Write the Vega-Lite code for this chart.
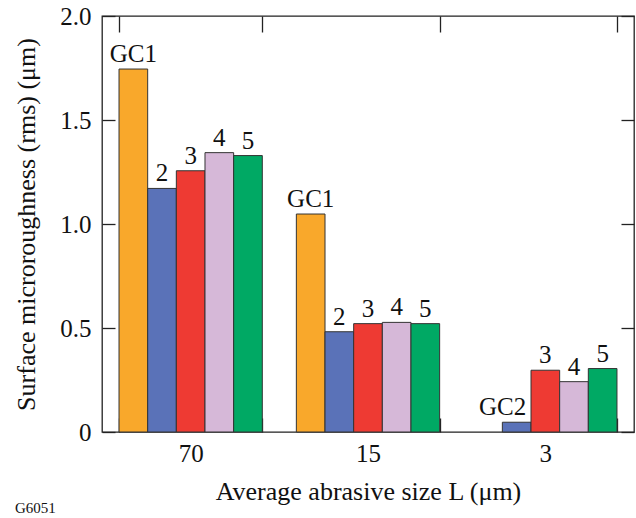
{
  "$schema": "https://vega.github.io/schema/vega-lite/v6.json",
  "width": 532,
  "height": 416,
  "autosize": "none",
  "padding": {"left": 102, "top": 16, "right": 2, "bottom": 86},
  "config": {
    "font": "Liberation Serif",
    "view": {"stroke": "#222", "strokeWidth": 1.3},
    "axis": {
      "grid": false,
      "domain": false,
      "tickColor": "#222",
      "tickWidth": 1.3,
      "labelColor": "#111",
      "titleColor": "#111",
      "labelFont": "Liberation Serif",
      "titleFont": "Liberation Serif",
      "labelFontSize": 25,
      "titleFontSize": 26,
      "titleFontWeight": "normal"
    }
  },
  "title": {
    "text": "G6051",
    "orient": "bottom",
    "anchor": "start",
    "frame": "group",
    "dx": -87,
    "offset": -3,
    "font": "Liberation Serif",
    "fontSize": 15,
    "fontWeight": "normal",
    "color": "#111"
  },
  "data": {
    "values": [
      {"size": "70", "series": "s1", "value": 1.745, "label": "GC1"},
      {"size": "70", "series": "s2", "value": 1.171, "label": "2"},
      {"size": "70", "series": "s3", "value": 1.256, "label": "3"},
      {"size": "70", "series": "s4", "value": 1.343, "label": "4"},
      {"size": "70", "series": "s5", "value": 1.329, "label": "5"},
      {"size": "15", "series": "s1", "value": 1.048, "label": "GC1"},
      {"size": "15", "series": "s2", "value": 0.482, "label": "2"},
      {"size": "15", "series": "s3", "value": 0.521, "label": "3"},
      {"size": "15", "series": "s4", "value": 0.527, "label": "4"},
      {"size": "15", "series": "s5", "value": 0.521, "label": "5"},
      {"size": "3", "series": "s2", "value": 0.047, "label": "GC2"},
      {"size": "3", "series": "s3", "value": 0.297, "label": "3"},
      {"size": "3", "series": "s4", "value": 0.242, "label": "4"},
      {"size": "3", "series": "s5", "value": 0.305, "label": "5"}
    ]
  },
  "encoding": {
    "x": {
      "field": "size",
      "type": "nominal",
      "sort": ["70", "15", "3"],
      "scale": {"paddingInner": 0.192, "paddingOuter": 0.096}
    },
    "xOffset": {"field": "series", "type": "nominal", "sort": ["s1", "s2", "s3", "s4", "s5"]},
    "y": {
      "field": "value",
      "type": "quantitative",
      "scale": {"domain": [0, 2], "nice": false, "zero": true}
    }
  },
  "layer": [
    {
      "mark": {"type": "bar", "stroke": "#333", "strokeWidth": 1},
      "encoding": {
        "x": {
          "field": "size",
          "type": "nominal",
          "sort": ["70", "15", "3"],
          "axis": {
            "orient": "bottom",
            "tickBand": "extent",
            "tickSize": -14,
            "labelPadding": 23,
            "labelAngle": 0,
            "title": "Average abrasive size L (μm)",
            "titlePadding": 12
          }
        },
        "y": {
          "field": "value",
          "type": "quantitative",
          "axis": {
            "orient": "left",
            "values": [0, 0.5, 1, 1.5, 2],
            "labelExpr": "datum.value == 0 ? '0' : format(datum.value, '.1f')",
            "tickSize": -13,
            "labelPadding": 24,
            "title": "Surface microroughness (rms) (μm)",
            "titlePadding": 20
          }
        },
        "color": {
          "field": "series",
          "type": "nominal",
          "scale": {
            "domain": ["s1", "s2", "s3", "s4", "s5"],
            "range": ["#F9A82B", "#5A72B8", "#EE3A33", "#D6B8D8", "#00A964"]
          },
          "legend": null
        }
      }
    },
    {
      "transform": [{"filter": "datum.label != 'GC2'"}],
      "mark": {"type": "text", "baseline": "alphabetic", "align": "center", "dy": -7, "fontSize": 25, "color": "#111"},
      "encoding": {
        "x": {
          "field": "size",
          "type": "nominal",
          "sort": ["70", "15", "3"],
          "axis": {
            "orient": "top",
            "tickBand": "extent",
            "tickSize": -16,
            "labels": false,
            "title": null
          }
        },
        "y": {
          "field": "value",
          "type": "quantitative",
          "axis": {
            "orient": "right",
            "values": [0, 0.5, 1, 1.5, 2],
            "tickSize": -13,
            "labels": false,
            "title": null
          }
        },
        "text": {"field": "label", "type": "nominal"}
      }
    },
    {
      "transform": [{"filter": "datum.label == 'GC2'"}],
      "mark": {"type": "text", "baseline": "alphabetic", "align": "center", "dx": -14, "dy": -7, "fontSize": 25, "color": "#111"},
      "encoding": {
        "x": {"field": "size", "type": "nominal", "sort": ["70", "15", "3"], "axis": null},
        "y": {"field": "value", "type": "quantitative", "axis": null},
        "text": {"field": "label", "type": "nominal"}
      }
    }
  ],
  "resolve": {"axis": {"x": "independent", "y": "independent"}}
}
